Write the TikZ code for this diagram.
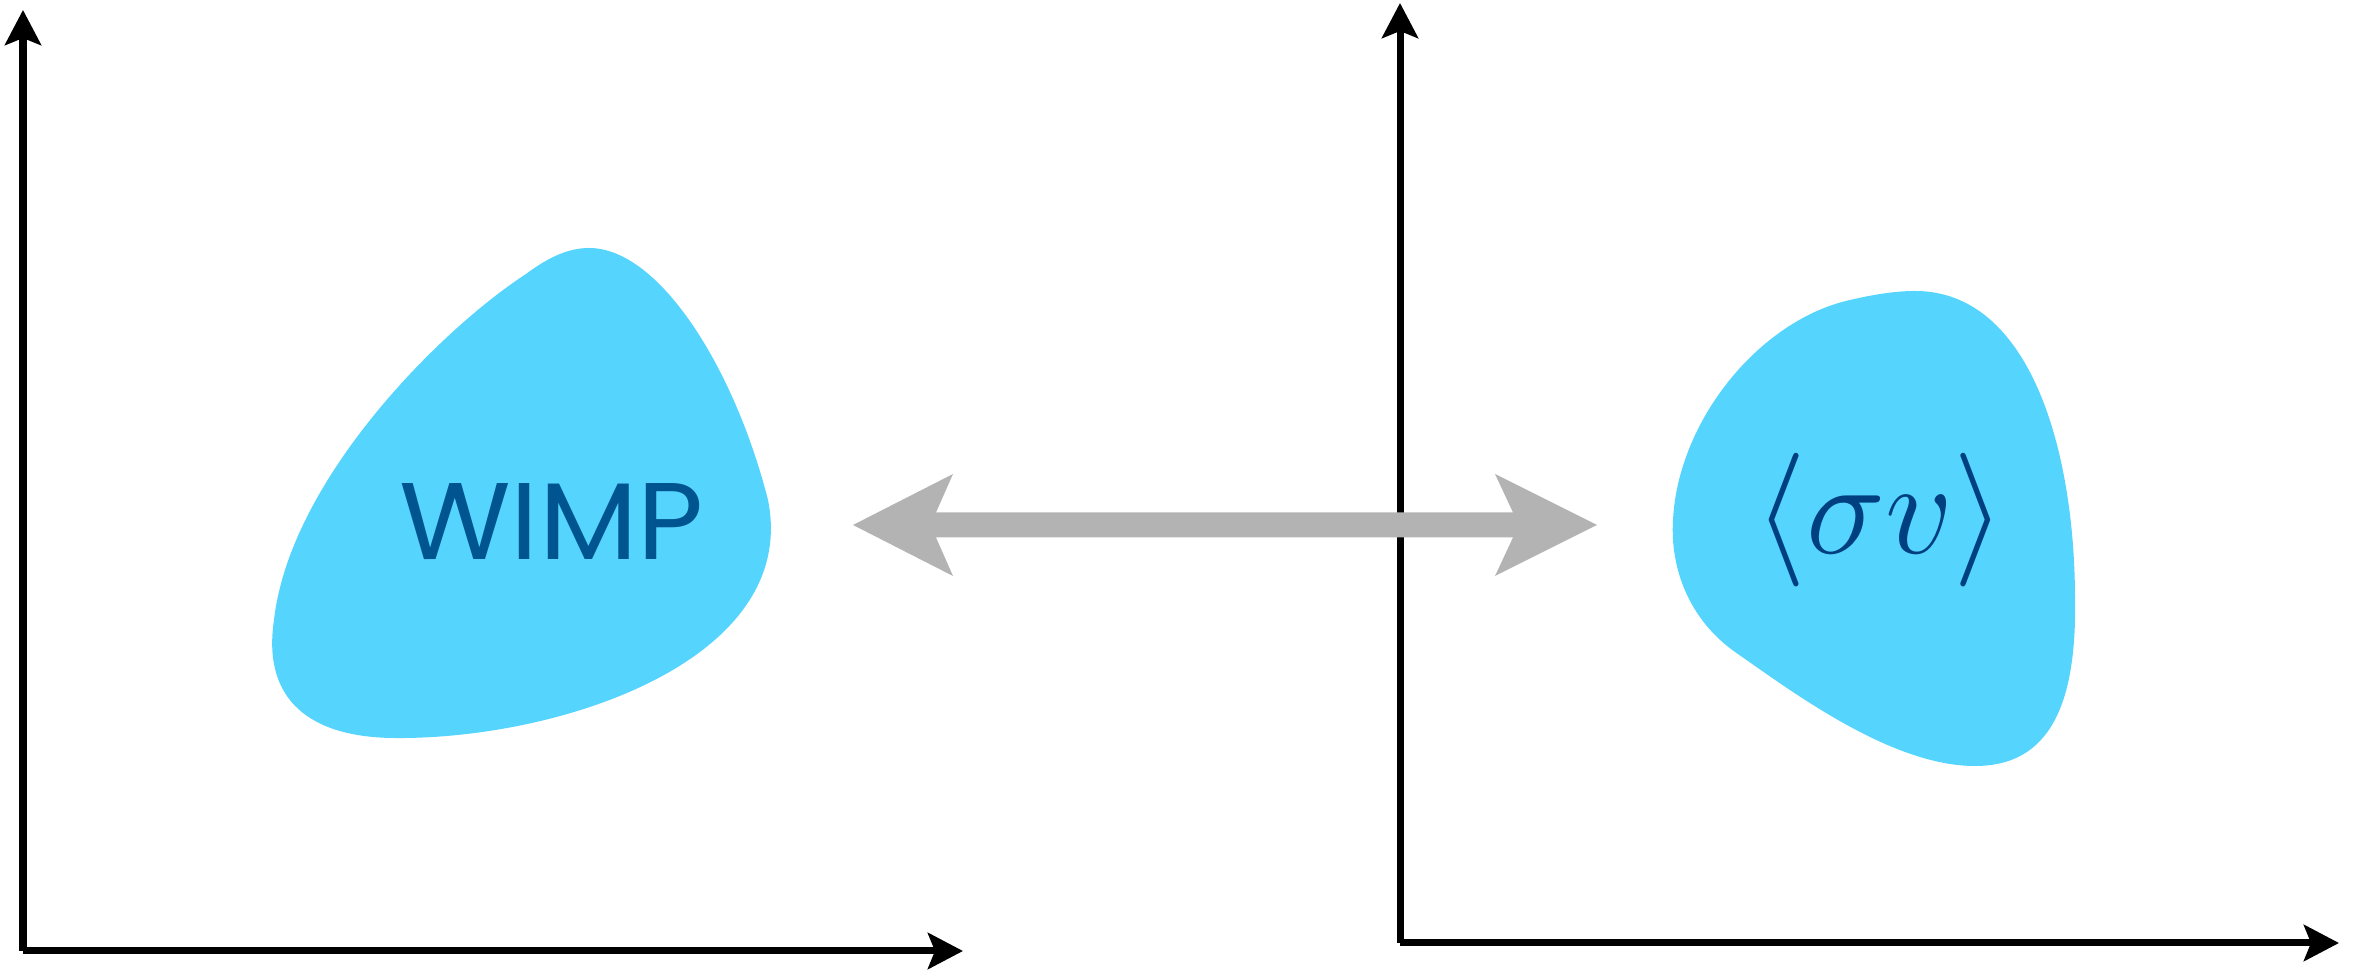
\RequirePackage{fix-cm}
\documentclass[tikz,border=0pt]{standalone}
\usepackage{fontspec}
\newfontfamily\wimpfont{Poppins}
\usetikzlibrary{arrows.meta,calc}
\definecolor{blobblue}{HTML}{55D4FE}
\definecolor{wimpblue}{HTML}{00548F}
\definecolor{svblue}{HTML}{003F80}
\definecolor{arrowgray}{HTML}{B3B3B3}
\tikzset{
  axis/.style={line width=0.07cm, -{Stealth[length=0.35cm, width=0.36cm, inset=0.07cm]}},
  blob/.style={fill=blobblue, draw=none},
}
\begin{document}
\begin{tikzpicture}[x=0.01cm, y=-0.01cm]
\useasboundingbox (0,0) rectangle (2357,971);
% axes
\coordinate (o1) at (23,951);
\coordinate (y1) at (23,10);
\coordinate (x1) at (963,951);
\coordinate (o2) at (1400,943);
\coordinate (y2) at (1400,3);
\coordinate (x2) at (2339,943);
% blobs
\path[blob] (589,248) .. controls (660,248) and (735,370) .. (768,500)
  .. controls (800,660) and (560,740) .. (393,738)
  .. controls (310,737) and (262,700) .. (274,620)
  .. controls (290,480) and (440,330) .. (526,274)
  .. controls (550,256) and (570,248) .. (589,248) -- cycle;
\path[blob] (1915,291) .. controls (2030,291) and (2075,450) .. (2075,600)
  .. controls (2077,720) and (2040,766) .. (1975,766)
  .. controls (1890,766) and (1790,690) .. (1735,652)
  .. controls (1690,620) and (1670,570) .. (1673,520)
  .. controls (1678,420) and (1760,320) .. (1850,300)
  .. controls (1880,293) and (1900,291) .. (1915,291) -- cycle;
% axes drawn
\draw[axis] (o1) -- (y1);
\draw[axis] (o1) -- (x1);
\draw[axis] (o2) -- (y2);
\draw[axis] (o2) -- (x2);
% double arrow
\coordinate (aL) at (853,525);
\coordinate (aR) at (1597,525);
\fill[arrowgray] (aL) -- ($(aL)+(100,-51)$) -- ($(aL)+(83,-12.5)$)
  -- ($(aR)+(-84,-12.5)$) -- ($(aR)+(-102,-51)$) -- (aR)
  -- ($(aR)+(-102,51)$) -- ($(aR)+(-84,12.5)$)
  -- ($(aL)+(83,12.5)$) -- ($(aL)+(100,51)$) -- cycle;
% labels
\node[inner sep=0, anchor=base, text=wimpblue, font=\wimpfont\fontsize{31}{33}\selectfont, xscale=1.05] (wimp) at (551.5,560) {WIMP};
\node[inner sep=0, anchor=center, text=svblue, font=\fontsize{38}{40}\selectfont] (sv) at (1880,520) {$\langle\sigma v\rangle$};
\end{tikzpicture}
\end{document}
